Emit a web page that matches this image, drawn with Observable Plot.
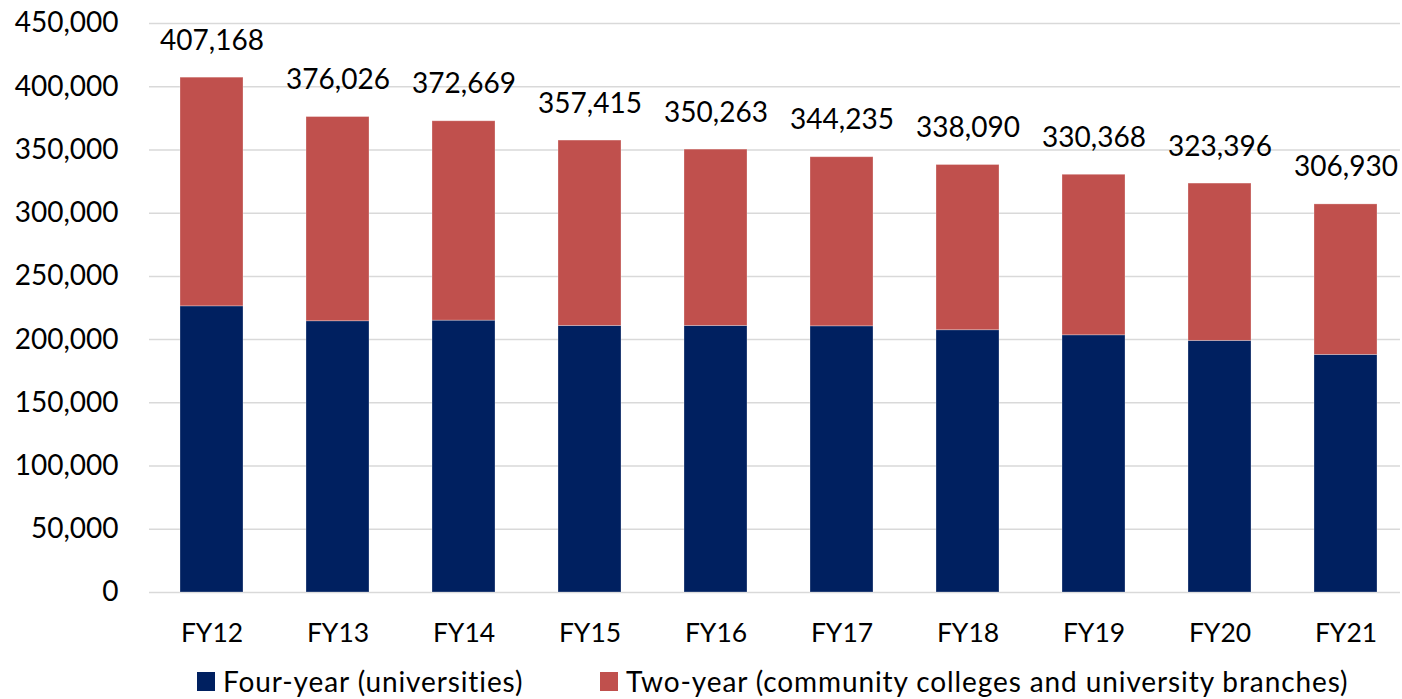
<!DOCTYPE html>
<html>
<head>
<meta charset="utf-8">
<script src="https://cdn.jsdelivr.net/npm/d3@7"></script>
<script src="https://cdn.jsdelivr.net/npm/@observablehq/plot@0.6"></script>
<style>
  html, body { margin: 0; padding: 0; background: #fff; }
  body { width: 1402px; height: 699px; overflow: hidden; font-family: Lato, "Open Sans", sans-serif; }
  #legend { position: relative; height: 39px; font-size: 28px; color: #000; letter-spacing: 0.9px; }
  .item { position: absolute; top: 4px; display: flex; align-items: center; white-space: nowrap; }
  .sw { width: 18px; height: 19px; margin-right: 8px; }
</style>
</head>
<body>
<div id="chart"></div>
<div id="legend"></div>
<script>
const categories = ["FY12", "FY13", "FY14", "FY15", "FY16", "FY17", "FY18", "FY19", "FY20", "FY21"];
const fourYear = [226300, 214500, 215000, 210800, 210800, 210500, 207400, 203400, 199000, 187900];
const twoYear  = [180868, 161526, 157669, 146615, 139463, 133735, 130690, 126968, 124396, 119030];
const totals   = [407168, 376026, 372669, 357415, 350263, 344235, 338090, 330368, 323396, 306930];
const seriesNames = ["Four-year (universities)", "Two-year (community colleges and university branches)"];
const seriesColors = ["#002060", "#C0504D"];
const yTicks = [0, 50000, 100000, 150000, 200000, 250000, 300000, 350000, 400000, 450000];

const rows = [];
categories.forEach((c, i) => {
  rows.push({cat: c, series: seriesNames[0], value: fourYear[i]});
  rows.push({cat: c, series: seriesNames[1], value: twoYear[i]});
});
const totalRows = categories.map((c, i) => ({cat: c, total: totals[i]}));
const fmt = d3.format(",");

const chart = Plot.plot({
  width: 1402,
  height: 660,
  marginLeft: 149,
  marginRight: 2,
  marginTop: 23,
  marginBottom: 68,
  style: {fontFamily: "Lato, 'Open Sans', sans-serif", color: "#000", background: "#fff"},
  x: {domain: categories, range: [148.5, 1408.5], paddingInner: 0.5, paddingOuter: 0.25, align: 0.5, label: null},
  y: {domain: [0, 450000], label: null},
  color: {domain: seriesNames, range: seriesColors},
  marks: [
    Plot.ruleY(yTicks, {stroke: "#d9d9d9", strokeWidth: 1.5}),
    Plot.barY(rows, {x: "cat", y: "value", fill: "series", stroke: "#ffffff", strokeOpacity: 0.35, strokeWidth: 0.8}),
    Plot.text(totalRows, {x: "cat", y: "total", text: d => fmt(d.total), dy: -37, fontSize: 28, fill: "#000"}),
    Plot.axisY({ticks: yTicks, tickFormat: fmt, tickSize: 0, tickPadding: 31, fontSize: 28, label: null}),
    Plot.axisX({tickSize: 0, tickPadding: 31, fontSize: 26.5, label: null})
  ]
});
document.getElementById("chart").appendChild(chart);

const legend = document.getElementById("legend");
const positions = [197, 600];
seriesNames.forEach((name, i) => {
  const item = document.createElement("div");
  item.className = "item";
  item.style.left = positions[i] + "px";
  const sw = document.createElement("span");
  sw.className = "sw";
  sw.style.background = seriesColors[i];
  const t = document.createElement("span");
  t.textContent = name;
  item.appendChild(sw);
  item.appendChild(t);
  legend.appendChild(item);
});
</script>
</body>
</html>
